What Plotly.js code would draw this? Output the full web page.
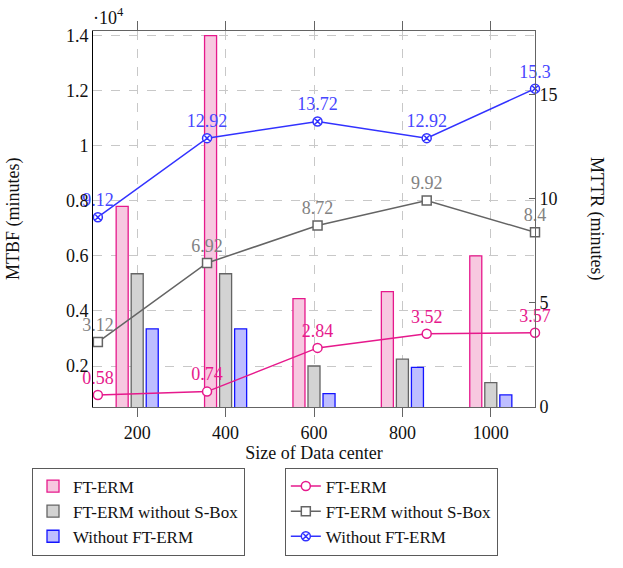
<!DOCTYPE html>
<html>
<head>
<meta charset="utf-8">
<script src="https://cdn.plot.ly/plotly-3.0.1.min.js"></script>
<style>
  body { margin: 0; background: #fff; }
  #chart { width: 623px; height: 568px; }
</style>
</head>
<body>
<div id="chart"></div>
<script>
// data centre sizes (bars) and the MTTR sample points (lines)
var sizes = [200, 400, 600, 800, 1000];
var lineX = [111, 358, 608, 855, 1100];

// MTBF, minutes (left axis)
var mtbfFtErm = [7800, 14000, 4450, 4700, 6000];
var mtbfNoSbox = [5350, 5350, 2000, 2250, 1400];
var mtbfNoFtErm = [3350, 3350, 1000, 1950, 950];

// MTTR, minutes (right axis)
var mttrFtErm = [0.58, 0.74, 2.84, 3.52, 3.57];
var mttrNoSbox = [3.12, 6.92, 8.72, 9.92, 8.4];
var mttrNoFtErm = [9.12, 12.92, 13.72, 12.92, 15.3];

var seriesNames = ['FT-ERM', 'FT-ERM without S-Box', 'Without FT-ERM'];

var leftTicks = [2000, 4000, 6000, 8000, 10000, 12000, 14000];
var leftTickText = ['0.2', '0.4', '0.6', '0.8', '1', '1.2', '1.4'];
var rightTicks = [0, 5, 10, 15];

var font = '"Liberation Serif", "DejaVu Serif", serif';
var pink = 'rgb(230,25,140)', gray = 'rgb(100,100,100)', blue = 'rgb(50,50,255)';

function barTrace(y, i, fill, edge) {
  return {
    type: 'bar', x: sizes, y: y, name: seriesNames[i],
    marker: {color: fill, line: {color: edge, width: 1.3}},
    legend: 'legend', hoverinfo: 'x+y'
  };
}

function lineTrace(y, i, col, sym, txtCol) {
  return {
    type: 'scatter', mode: 'lines+markers+text', x: lineX, y: y,
    yaxis: 'y2', name: seriesNames[i],
    text: y.map(String), textposition: 'top center',
    textfont: {family: font, size: 18, color: txtCol},
    cliponaxis: false,
    line: {color: col, width: 1.5},
    marker: {symbol: sym, size: 9, color: 'white', line: {color: col, width: 1.5}},
    legend: 'legend2'
  };
}

var data = [
  barTrace(mtbfFtErm, 0, 'rgb(247,200,224)', pink),
  barTrace(mtbfNoSbox, 1, 'rgb(211,211,211)', gray),
  barTrace(mtbfNoFtErm, 2, 'rgb(190,190,255)', 'rgb(20,20,255)'),
  lineTrace(mttrFtErm, 0, pink, 'circle', pink),
  lineTrace(mttrNoSbox, 1, gray, 'square', 'rgb(130,130,130)'),
  lineTrace(mttrNoFtErm, 2, blue, 'circle-x', 'rgb(70,70,255)')
];

// anchored at the bottom so the legends do not push the plot margins
var legendBase = {
  orientation: 'v', yanchor: 'bottom', xanchor: 'left', y: -0.395,
  bgcolor: 'white', bordercolor: 'rgb(90,90,90)', borderwidth: 1,
  font: {family: font, size: 17, color: '#111'}
};

var layout = {
  width: 623, height: 568,
  margin: {l: 93, r: 88, t: 31, b: 161},
  paper_bgcolor: 'white', plot_bgcolor: 'white',
  font: {family: font, size: 18, color: '#111'},
  barmode: 'group', bargap: 0.49, bargroupgap: 0.2,
  xaxis: {
    range: [100, 1100], tickvals: sizes, ticks: 'outside', ticklen: 9,
    tickcolor: gray, showline: true, linecolor: gray, mirror: 'ticks',
    ticklabelstandoff: 0, automargin: false,
    showgrid: true, gridcolor: 'rgb(200,200,200)', griddash: 'dash',
    zeroline: false,
    title: {text: 'Size of Data center', standoff: 1, font: {family: font, size: 18}}
  },
  yaxis: {
    range: [512, 14165], tickvals: leftTicks, ticktext: leftTickText,
    ticks: '', showline: true, linecolor: 'black', linewidth: 1,
    automargin: false,
    showgrid: true, gridcolor: 'rgb(200,200,200)', griddash: 'dash',
    zeroline: false
  },
  yaxis2: {
    overlaying: 'y', side: 'right', range: [0, 18.07], tickvals: rightTicks,
    ticks: 'inside', ticklen: 6, tickcolor: gray, automargin: false,
    showline: true, linecolor: gray, showgrid: false, zeroline: false
  },
  legend: Object.assign({}, legendBase, {x: -0.138}),
  legend2: Object.assign({}, legendBase, {x: 0.434}),
  annotations: [
    {xref: 'paper', yref: 'paper', x: -0.005, y: 1, xanchor: 'left', yanchor: 'bottom',
     yshift: 1, showarrow: false, text: '·10<sup>4</sup>', font: {family: font, size: 18}},
    {xref: 'paper', yref: 'paper', x: 0, y: 0.5, xanchor: 'center', yanchor: 'middle',
     xshift: -80, showarrow: false, textangle: -90, text: 'MTBF (minutes)',
     font: {family: font, size: 18}},
    {xref: 'paper', yref: 'paper', x: 1.14, y: 0.5, xanchor: 'center', yanchor: 'middle',
     showarrow: false, textangle: 90, text: 'MTTR (minutes)', font: {family: font, size: 18}}
  ],
  showlegend: true
};

Plotly.newPlot('chart', data, layout, {displayModeBar: false});
</script>
</body>
</html>
